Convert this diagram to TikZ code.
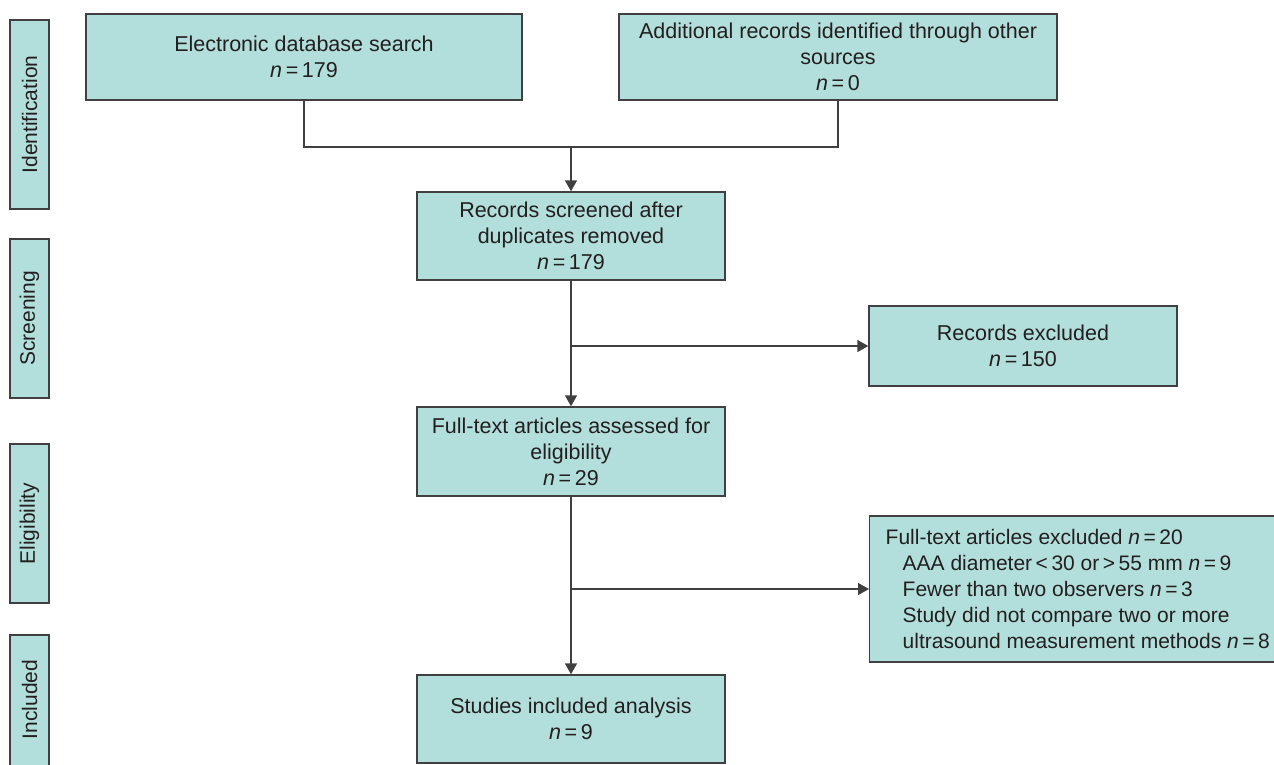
\documentclass[tikz,border=0pt]{standalone}
\usepackage{fontspec}
\setmainfont{Liberation Sans}
\usetikzlibrary{arrows.meta}
\definecolor{boxfill}{RGB}{178,222,219}
\definecolor{boxline}{RGB}{64,64,64}
\definecolor{txt}{RGB}{35,31,32}
\tikzset{
  flowbox/.style={draw=boxline, line width=1.4pt, fill=boxfill, align=center, inner sep=0pt,
    text=txt, font=\fontsize{21.5}{26}\selectfont},
  stagebox/.style={draw=boxline, line width=1.4pt, fill=boxfill, inner sep=0pt, text=txt,
    font=\fontsize{21}{25}\selectfont},
  stagetext/.style={rotate=90, text=txt, font=\fontsize{21}{25}\selectfont},
  conn/.style={draw=boxline, line width=1.4pt},
  arr/.style={conn, -{Triangle[length=11pt,width=12pt]}}
}
\newcommand{\nn}[1]{\textit{n}\,=\,#1}
\begin{document}
\begin{tikzpicture}[x=1pt,y=-1pt]
\useasboundingbox (0,0) rectangle (1274,764);
\clip (0,0) rectangle (1274,764);
% stage labels
\node[stagebox, minimum width=39pt, minimum height=189pt] (sid) at (29.5,114.5) {};
\node[stagetext] (tid) at (sid.center) {Identification};
\node[stagebox, minimum width=39pt, minimum height=159pt] (ssc) at (29.5,318.5) {};
\node[stagetext] (tsc) at (ssc.center) {Screening};
\node[stagebox, minimum width=39pt, minimum height=159pt] (sel) at (29.5,523.5) {};
\node[stagetext] (tel) at (sel.center) {Eligibility};
\node[stagebox, minimum width=39pt, minimum height=160pt] (sin) at (29.5,715) {};
\node[stagetext] (tin) at (29.5,699.5) {Included};
% flow boxes
\node[flowbox, minimum width=436pt, minimum height=86pt] (b1) at (304,57)
  {Electronic database search\\ \nn{179}};
\node[flowbox, minimum width=438pt, minimum height=86pt] (b2) at (838,57)
  {Additional records identified through other\\ sources\\ \nn{0}};
\node[flowbox, minimum width=308pt, minimum height=88pt] (b3) at (571,236)
  {Records screened after\\ duplicates removed\\ \nn{179}};
\node[flowbox, minimum width=308pt, minimum height=80pt] (rex) at (1023,346)
  {Records excluded\\ \nn{150}};
\node[flowbox, minimum width=308pt, minimum height=89pt] (b4) at (571,451.5)
  {Full-text articles assessed for\\ eligibility\\ \nn{29}};
\node[flowbox, minimum width=308pt, minimum height=88pt] (b5) at (571,719)
  {Studies included analysis\\ \nn{9}};
\node[flowbox, align=left, anchor=west, inner xsep=16pt, minimum height=146pt,
  font=\fontsize{21}{25.8}\selectfont] (fex) at (869,589)
  {Full-text articles excluded \nn{20}\\
   \hspace*{17pt}AAA diameter\,<\,30 or\,>\,55 mm \nn{9}\\
   \hspace*{17pt}Fewer than two observers \nn{3}\\
   \hspace*{17pt}Study did not compare two or more\\
   \hspace*{17pt}ultrasound measurement methods \nn{8}\hspace*{30pt}};
% connectors
\coordinate (m) at (571,147);
\draw[conn] (b1.south) |- (m) -| (b2.south);
\draw[arr] (m) -- (b3.north);
\draw[arr] (b3.south) -- (b4.north);
\draw[arr] (b3.south |- rex.west) -- (rex.west);
\draw[arr] (b4.south) -- (b5.north);
\draw[arr] (b4.south |- fex.west) -- (fex.west);
\end{tikzpicture}
\end{document}
